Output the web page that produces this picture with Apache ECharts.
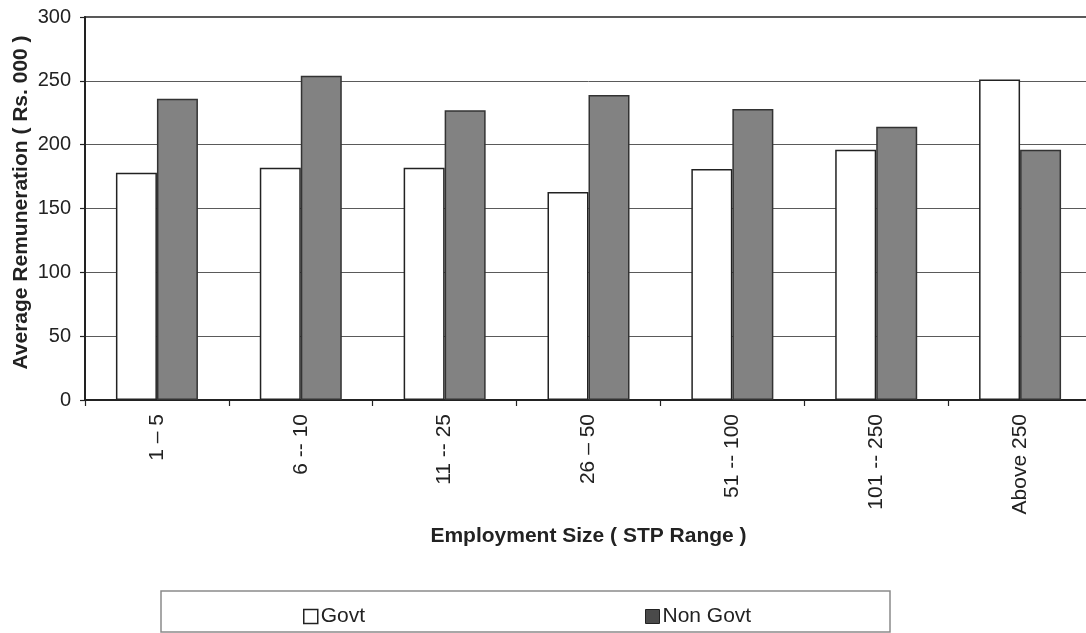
<!DOCTYPE html>
<html>
<head>
<meta charset="utf-8">
<script src="https://cdn.jsdelivr.net/npm/echarts@6/dist/echarts.min.js"></script>
<style>
  html, body { margin: 0; padding: 0; background: #ffffff; overflow: hidden; }
  #chart { width: 1096px; height: 633px; }
</style>
</head>
<body>
<div id="chart"></div>
<script>
// Employment size classes (STP range)
const categories = ['1 \u2013 5', '6 -- 10', '11 -- 25', '26 \u2013 50', '51 -- 100', '101 -- 250', 'Above 250'];
// Average remuneration, Rs. 000
const govt = [178, 182, 182, 163, 181, 196, 251];
const nonGovt = [236, 254, 227, 239, 228, 214, 196];
const yTicks = [0, 50, 100, 150, 200, 250, 300];

const FONT = '"Liberation Sans", Arial, sans-serif';
const INK = '#222222';

const chart = echarts.init(document.getElementById('chart'), null, { renderer: 'canvas' });

chart.setOption({
  backgroundColor: '#ffffff',
  animation: false,
  grid: {
    left: 85, top: 17, width: 1007, height: 383,
    outerBoundsMode: 'none',
    containLabel: false,
    show: true, borderColor: '#222', borderWidth: 1.5, backgroundColor: 'transparent'
  },
  xAxis: {
    type: 'category',
    data: categories,
    name: 'Employment Size ( STP Range )',
    nameLocation: 'middle',
    nameGap: 126,
    nameMoveOverlap: false,
    nameTextStyle: { fontFamily: FONT, fontSize: 21, fontWeight: 'bold', color: INK },
    axisLine: { lineStyle: { color: '#222', width: 2 } },
    axisTick: { show: true, length: 6, lineStyle: { color: '#222', width: 1.2 } },
    axisLabel: { rotate: 90, margin: 14, fontFamily: FONT, fontSize: 21, color: INK },
    splitLine: { show: false }
  },
  yAxis: {
    type: 'value',
    min: yTicks[0],
    max: yTicks[yTicks.length - 1],
    interval: yTicks[1] - yTicks[0],
    name: 'Average Remuneration ( Rs. 000 )',
    nameLocation: 'middle',
    nameGap: 53,
    nameMoveOverlap: false,
    nameTextStyle: { fontFamily: FONT, fontSize: 21, fontWeight: 'bold', color: INK, padding: [0, 0, 0, 12] },
    axisLine: { show: true, lineStyle: { color: '#222', width: 2 } },
    axisTick: { show: true, length: 5, lineStyle: { color: '#222', width: 1.2 } },
    axisLabel: { margin: 14, fontFamily: FONT, fontSize: 20, color: INK },
    splitLine: { show: true, lineStyle: { color: '#5a5a5a', width: 1 } }
  },
  legend: [
    {
      data: [{ name: 'Govt', itemStyle: { color: '#ffffff', borderColor: '#222', borderWidth: 1.5 } }],
      left: 298, top: 601, itemWidth: 14, itemHeight: 14,
      icon: 'rect',
      textStyle: { fontFamily: FONT, fontSize: 21, color: INK, padding: [0, 0, 0, -2] }
    },
    {
      data: [{ name: 'Non Govt', itemStyle: { color: '#4a4a4a', borderColor: '#222', borderWidth: 1 } }],
      left: 640, top: 601, itemWidth: 14, itemHeight: 14,
      icon: 'rect',
      textStyle: { fontFamily: FONT, fontSize: 21, color: INK, padding: [0, 0, 0, -2] }
    }
  ],
  graphic: [
    {
      type: 'rect',
      shape: { x: 161, y: 591, width: 729, height: 41 },
      style: { fill: 'none', stroke: '#8a8a8a', lineWidth: 1.5 },
      z: -1
    }
  ],
  series: [
    {
      name: 'Govt',
      type: 'bar',
      data: govt,
      barWidth: 41,
      barGap: '0%',
      itemStyle: { color: '#ffffff', borderColor: '#222', borderWidth: 1.5 }
    },
    {
      name: 'Non Govt',
      type: 'bar',
      data: nonGovt,
      barWidth: 41,
      barGap: '0%',
      itemStyle: { color: '#828282', borderColor: '#333', borderWidth: 1.5 }
    }
  ]
});
</script>
</body>
</html>
